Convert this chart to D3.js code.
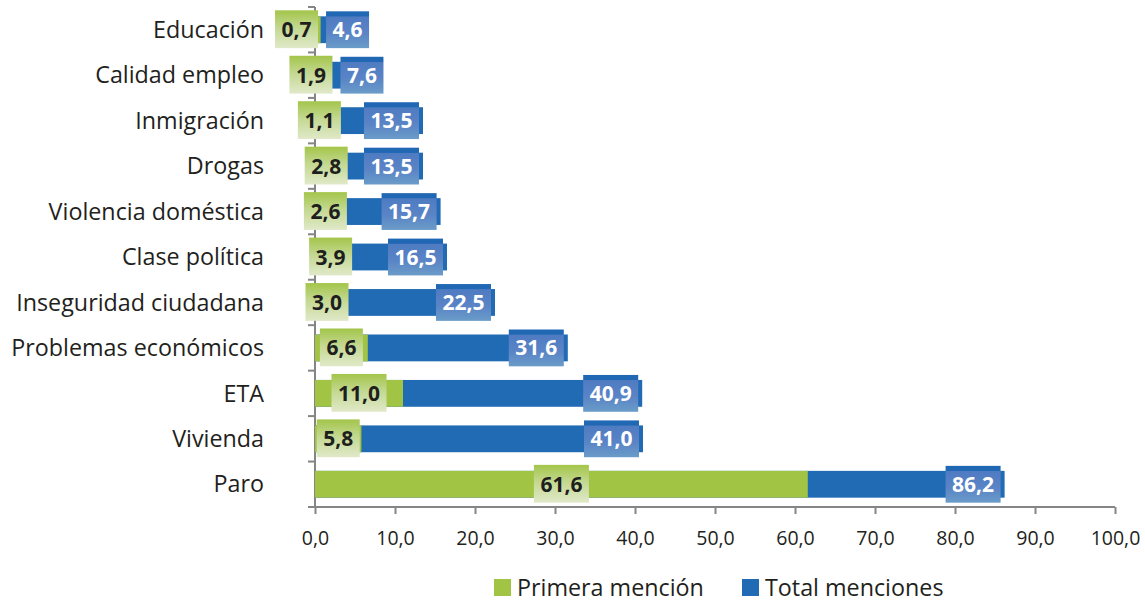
<!DOCTYPE html>
<html><head><meta charset="utf-8">
<script src="https://cdn.jsdelivr.net/npm/d3@7"></script>
<style>body{margin:0;background:#fff}svg{display:block}text{font-family:"Open Sans",sans-serif}</style>
</head><body><svg id="c" width="1145" height="604"></svg>
<script>
const categories = ["Educación","Calidad empleo","Inmigración","Drogas","Violencia doméstica","Clase política","Inseguridad ciudadana","Problemas económicos","ETA","Vivienda","Paro"];
const primera = [0.7,1.9,1.1,2.8,2.6,3.9,3.0,6.6,11.0,5.8,61.6];
const total = [4.6,7.6,13.5,13.5,15.7,16.5,22.5,31.6,40.9,41.0,86.2];
const xTicks = [0,10,20,30,40,50,60,70,80,90,100];
const seriesNames = ["Primera mención","Total menciones"];

const GREEN="#a2c444", BLUE="#216bb5", AXIS="#858585", TXT="#231f20";
const svg=d3.select("#c");
const defs=svg.append("defs");
const gg=defs.append("linearGradient").attr("id","gG").attr("x1",0).attr("y1",0).attr("x2",0).attr("y2",1);
gg.append("stop").attr("offset","0").attr("stop-color","#a3c54a");
gg.append("stop").attr("offset","0.45").attr("stop-color","#c3d890");
gg.append("stop").attr("offset","1").attr("stop-color","#e0e9c9");
const bg=defs.append("linearGradient").attr("id","gB").attr("x1",0).attr("y1",0).attr("x2",0).attr("y2",1);
bg.append("stop").attr("offset","0").attr("stop-color","#2168b4");
bg.append("stop").attr("offset","0.13").attr("stop-color","#2168b4");
bg.append("stop").attr("offset","0.15").attr("stop-color","#4f7bc2");
bg.append("stop").attr("offset","0.6").attr("stop-color","#5a84c6");
bg.append("stop").attr("offset","1").attr("stop-color","#6a9cc8");

const x=d3.scaleLinear().domain([0,100]).range([315,1115]);
const y=d3.scaleBand().domain(categories).range([7,507]).padding(0);
const bh=y.bandwidth()*0.59;
const fmt=v=>d3.format(".1f")(v).replace(".",",");

// axes
const xa=svg.append("g").attr("transform","translate(0,507)")
  .call(d3.axisBottom(x).tickValues(xTicks).tickFormat(fmt).tickSize(7).tickSizeOuter(0));
xa.select(".domain").attr("stroke",AXIS).attr("stroke-width",2).attr("d","M308,0H1115");
xa.selectAll(".tick line").attr("stroke",AXIS).attr("stroke-width",2);
xa.selectAll(".tick text").attr("fill",TXT).attr("font-size",19.5).attr("dy","1.45em");

const ya=svg.append("g");
ya.append("line").attr("x1",315).attr("x2",315).attr("y1",7).attr("y2",508).attr("stroke",AXIS).attr("stroke-width",2);
const bounds=categories.map(c=>y(c)).concat([507]);
ya.selectAll("line.t").data(bounds).join("line").attr("class","t")
  .attr("x1",308).attr("x2",315).attr("y1",d=>d).attr("y2",d=>d).attr("stroke",AXIS).attr("stroke-width",2);
ya.selectAll("text").data(categories).join("text")
  .attr("x",264).attr("y",d=>y(d)+y.bandwidth()/2).attr("dy","0.35em")
  .attr("text-anchor","end").attr("font-size",23.3).attr("fill",TXT).text(d=>d);

const rows=categories.map((c,i)=>({c,p:primera[i],t:total[i]}));
const g=svg.append("g");
g.selectAll("rect.t").data(rows).join("rect").attr("class","t")
  .attr("x",x(0)).attr("y",d=>y(d.c)+(y.bandwidth()-bh)/2).attr("width",d=>x(d.t)-x(0)).attr("height",bh).attr("fill",BLUE);
g.selectAll("rect.p").data(rows).join("rect").attr("class","p")
  .attr("x",x(0)).attr("y",d=>y(d.c)+(y.bandwidth()-bh)/2).attr("width",d=>x(d.p)-x(0)).attr("height",bh).attr("fill",GREEN);

// labels
const lab=svg.append("g");
rows.forEach(d=>{
  const cy=y(d.c)+y.bandwidth()/2, top=cy-bh/2;
  const tmp=lab.append("text").attr("font-size",21).attr("font-weight","bold").text(fmt(d.p));
  const wp=tmp.node().getComputedTextLength()+13; tmp.remove();
  const tmp2=lab.append("text").attr("font-size",21).attr("font-weight","bold").text(fmt(d.t));
  const wt=tmp2.node().getComputedTextLength()+13; tmp2.remove();
  let gc=(x(0)+x(d.p))/2;
  let bl=x(d.t)-4-wt;
  const ov=(gc+wp/2)-bl+8;
  if(ov>0){gc-=ov/2;bl+=ov/2;}
  lab.append("rect").attr("x",gc-wp/2).attr("y",top-6).attr("width",wp).attr("height",bh+11).attr("fill","url(#gG)");
  lab.append("text").attr("x",gc).attr("y",cy).attr("dy","0.36em").attr("text-anchor","middle")
    .attr("font-size",21).attr("font-weight","bold").attr("fill","#1e1e1e").text(fmt(d.p));
  lab.append("rect").attr("x",bl).attr("y",top-5).attr("width",wt).attr("height",bh+10).attr("fill","url(#gB)");
  lab.append("text").attr("x",bl+wt/2).attr("y",cy).attr("dy","0.36em").attr("text-anchor","middle")
    .attr("font-size",21).attr("font-weight","bold").attr("fill","#fff").text(fmt(d.t));
});

// legend
const leg=svg.append("g");
const lx=[494,742], lc=[GREEN,BLUE];
seriesNames.forEach((n,i)=>{
  leg.append("rect").attr("x",lx[i]).attr("y",579).attr("width",17).attr("height",17).attr("fill",lc[i]);
  leg.append("text").attr("x",lx[i]+23).attr("y",588).attr("dy","0.36em").attr("font-size",23.3).attr("fill",TXT).text(n);
});
</script></body></html>
